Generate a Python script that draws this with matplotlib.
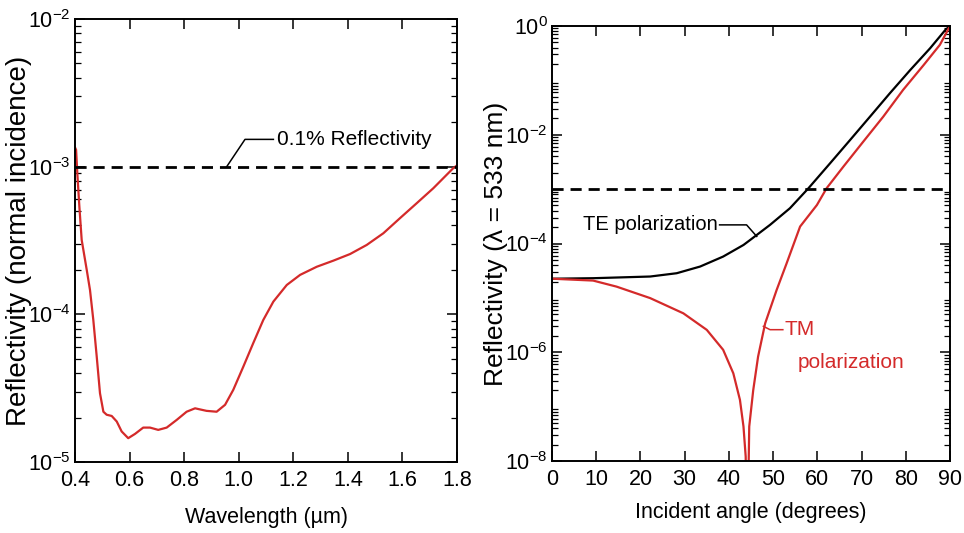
import numpy as np
import matplotlib
matplotlib.use("Agg")
import matplotlib.pyplot as plt
from matplotlib.ticker import LogLocator, NullFormatter

plt.rcParams["font.family"] = ["Liberation Sans", "DejaVu Sans"]
plt.rcParams["mathtext.fontset"] = "custom"
plt.rcParams["mathtext.rm"] = "Liberation Sans"

# left panel: reflectivity at normal incidence vs wavelength (um)
wavelength = [0.400, 0.404, 0.4085, 0.416, 0.4245, 0.443, 0.455, 0.467, 0.4795, 0.4916,
              0.504, 0.516, 0.5345, 0.553, 0.571, 0.595, 0.620, 0.650, 0.675, 0.705,
              0.736, 0.773, 0.809, 0.840, 0.882, 0.919, 0.950, 0.980, 1.017, 1.053,
              1.090, 1.127, 1.176, 1.225, 1.286, 1.347, 1.408, 1.469, 1.530, 1.591,
              1.652, 1.713, 1.786, 1.800]
refl_normal = [1.35e-3, 1.30e-3, 9.0e-4, 5.36e-4, 3.19e-4, 2.0e-4, 1.46e-4, 9.2e-5, 5.2e-5, 2.92e-5,
               2.19e-5, 2.09e-5, 2.05e-5, 1.88e-5, 1.61e-5, 1.45e-5, 1.55e-5, 1.71e-5, 1.71e-5, 1.65e-5,
               1.71e-5, 1.93e-5, 2.19e-5, 2.31e-5, 2.22e-5, 2.19e-5, 2.44e-5, 3.08e-5, 4.43e-5, 6.37e-5,
               9.16e-5, 1.22e-4, 1.58e-4, 1.85e-4, 2.10e-4, 2.31e-4, 2.56e-4, 2.95e-4, 3.54e-4, 4.48e-4,
               5.65e-4, 7.14e-4, 9.76e-4, 1.02e-3]

# right panel: reflectivity at 533 nm vs incident angle (degrees)
angle_te = [0, 9.3, 22.2, 28.2, 33.5, 38.7, 43.3, 44.8, 49.3, 53.8, 58.0, 62.9, 67.4,
            71.9, 76.4, 81.0, 85.5, 88.9, 90]
refl_te = [2.25e-5, 2.3e-5, 2.47e-5, 2.84e-5, 3.77e-5, 5.75e-5, 9.4e-5, 1.16e-4, 2.2e-4,
           4.45e-4, 1.04e-3, 3.0e-3, 8.0e-3, 2.15e-2, 5.8e-2, 0.155, 0.39, 0.84, 1.0]
angle_tm = [0, 9.3, 14.6, 22.2, 29.7, 35.0, 38.7, 41.0, 42.5, 43.3, 43.8, 44.1, 44.6, 45.5,
            46.6, 48.2, 50.8, 53.0, 56.1, 59.9, 62.1, 65.9, 70.4, 74.9, 79.4, 84.0, 87.7, 90]
refl_tm = [2.25e-5, 2.08e-5, 1.61e-5, 9.9e-6, 5.2e-6, 2.58e-6, 1.11e-6, 4.1e-7, 1.33e-7, 4.3e-8,
           1.2e-8, 1e-10, 4.3e-8, 2.0e-7, 8.3e-7, 3.4e-6, 1.4e-5, 4.2e-5, 2.05e-4, 5.1e-4,
           1.04e-3, 2.6e-3, 7.5e-3, 2.15e-2, 6.7e-2, 0.19, 0.45, 1.0]

red = "#d42a2a"

fig = plt.figure(figsize=(9.64, 5.33), dpi=100)
ax1 = fig.add_axes([0.0778, 0.1332, 0.3963, 0.8312])
ax2 = fig.add_axes([0.5726, 0.1351, 0.4129, 0.8161])


def style(ax):
    ax.tick_params(which="both", direction="in", top=True, right=True, labelsize=15.5)
    ax.tick_params(axis="x", pad=6)
    ax.tick_params(axis="y", pad=3)
    ax.tick_params(which="major", length=7, width=1.1)
    ax.tick_params(which="minor", length=4, width=0.9)
    ax.yaxis.set_minor_locator(LogLocator(base=10, subs=np.arange(2, 10)))
    ax.yaxis.set_minor_formatter(NullFormatter())
    for s in ax.spines.values():
        s.set_linewidth(1.4)


# left
ax1.plot(wavelength, refl_normal, color=red, lw=1.6)
ax1.axhline(1e-3, color="black", ls=(0, (4, 2.5)), lw=2)
ax1.set_yscale("log")
ax1.set_xlim(0.4, 1.8)
ax1.set_ylim(1e-5, 1e-2)
ax1.set_xticks([0.4, 0.6, 0.8, 1.0, 1.2, 1.4, 1.6, 1.8])
ax1.set_yticks([1e-5, 1e-4, 1e-3, 1e-2])
style(ax1)
ax1.set_xlabel("Wavelength (\u00b5m)", fontsize=15.5, va="top")
ax1.xaxis.set_label_coords(0.5, -0.102)
ax1.set_ylabel("Reflectivity (normal incidence)", fontsize=20)
ax1.yaxis.set_label_coords(-0.112, 0.5)
ax1.plot([0.956, 1.023, 1.127], [1e-3, 1.53e-3, 1.53e-3], color="black", lw=1.1)
ax1.text(1.139, 1.53e-3, "0.1% Reflectivity", fontsize=15, va="center", ha="left")

# right
ax2.plot(angle_te, refl_te, color="black", lw=1.6)
ax2.plot(angle_tm, refl_tm, color=red, lw=1.6)
ax2.axhline(1e-3, color="black", ls=(0, (4, 2.5)), lw=2)
ax2.set_yscale("log")
ax2.set_xlim(0, 90)
ax2.set_ylim(1e-8, 1)
ax2.set_xticks(range(0, 91, 10))
ax2.set_yticks([1e-8, 1e-6, 1e-4, 1e-2, 1])
style(ax2)
ax2.set_xlabel("Incident angle (degrees)", fontsize=15.5, va="top")
ax2.xaxis.set_label_coords(0.5, -0.095)
ax2.set_ylabel("Reflectivity (\u03bb = 533 nm)", fontsize=19)
ax2.yaxis.set_label_coords(-0.11, 0.5)

ax2.plot([37.9, 44.0, 46.3], [2.2e-4, 2.2e-4, 1.35e-4], color="black", lw=1.1)
ax2.text(37.5, 2.2e-4, "TE polarization", fontsize=14.5, va="center", ha="right")
ax2.plot([47.8, 49.3, 52.2], [3.0e-6, 2.6e-6, 2.6e-6], color=red, lw=1.1)
ax2.text(52.5, 2.6e-6, "TM", fontsize=15, va="center", ha="left", color=red)
ax2.text(55.6, 6.4e-7, "polarization", fontsize=15, va="center", ha="left", color=red)

fig.savefig("out.png", dpi=100)
